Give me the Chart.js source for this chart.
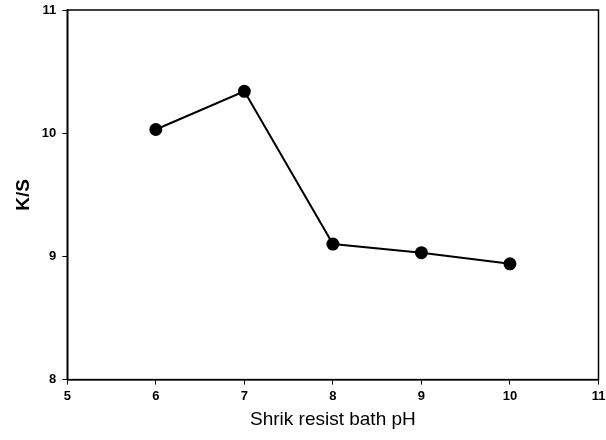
<!DOCTYPE html>
<html>
<head>
<meta charset="utf-8">
<script src="https://cdn.jsdelivr.net/npm/chart.js@4"></script>
<style>
  html, body { margin: 0; padding: 0; background: #fff; }
</style>
</head>
<body>
<canvas id="chartKS" width="606" height="440"></canvas>
<script>
// Dados
const phValues = [6, 7, 8, 9, 10];
const ksValues = [10.03, 10.34, 9.10, 9.03, 8.94];

// caixa em volta da área do gráfico
const frameBox = {
    id: 'frameBox',
    afterDraw(chart) {
        const { ctx, chartArea: a } = chart;
        ctx.save();
        ctx.strokeStyle = '#000';
        ctx.lineWidth = 1.5;
        ctx.strokeRect(a.left, a.top, a.right - a.left, a.bottom - a.top);
        ctx.restore();
    }
};

const ctxKS = document.getElementById('chartKS').getContext('2d');
const chartKS = new Chart(ctxKS, {
    type: 'line',
    data: {
        datasets: [
            {
                label: 'K/S',
                data: phValues.map((x, i) => ({ x: x, y: ksValues[i] })),
                borderColor: '#000',
                backgroundColor: '#000',
                borderWidth: 2,
                pointRadius: 5.5,
                pointHoverRadius: 5.5,
                fill: false,
                tension: 0,
            },
        ],
    },
    options: {
        responsive: false,
        animation: false,
        layout: { padding: { left: 8, right: 0, top: 0, bottom: 5 } },
        plugins: {
            legend: { display: false },
            tooltip: { enabled: false },
        },
        scales: {
            x: {
                type: 'linear',
                min: 5,
                max: 11,
                afterFit: (s) => { s.paddingRight = 7; s.paddingLeft = 0; },
                ticks: { stepSize: 1, color: '#000', font: { family: 'Arial, Liberation Sans', size: 13, weight: 'bold' }, padding: 4 },
                grid: { drawOnChartArea: false, color: '#000', tickLength: 5 },
                border: { color: '#000', width: 1.5 },
                title: { display: true, text: 'Shrik resist bath pH', color: '#000', font: { family: 'Arial, Liberation Sans', size: 19 }, padding: { top: 0 } },
            },
            y: {
                min: 8,
                max: 11,
                afterFit: (s) => { s.paddingTop = 10; s.paddingBottom = 0; },
                ticks: { stepSize: 1, color: '#000', font: { family: 'Arial, Liberation Sans', size: 13, weight: 'bold' }, padding: 6 },
                grid: { drawOnChartArea: false, color: '#000', tickLength: 5 },
                border: { color: '#000', width: 1.5 },
                title: { display: true, text: 'K/S', color: '#000', font: { family: 'Arial, Liberation Sans', size: 19, weight: 'bold' }, padding: { bottom: 1 } },
            },
        },
    },
    plugins: [frameBox],
});
</script>
</body>
</html>
